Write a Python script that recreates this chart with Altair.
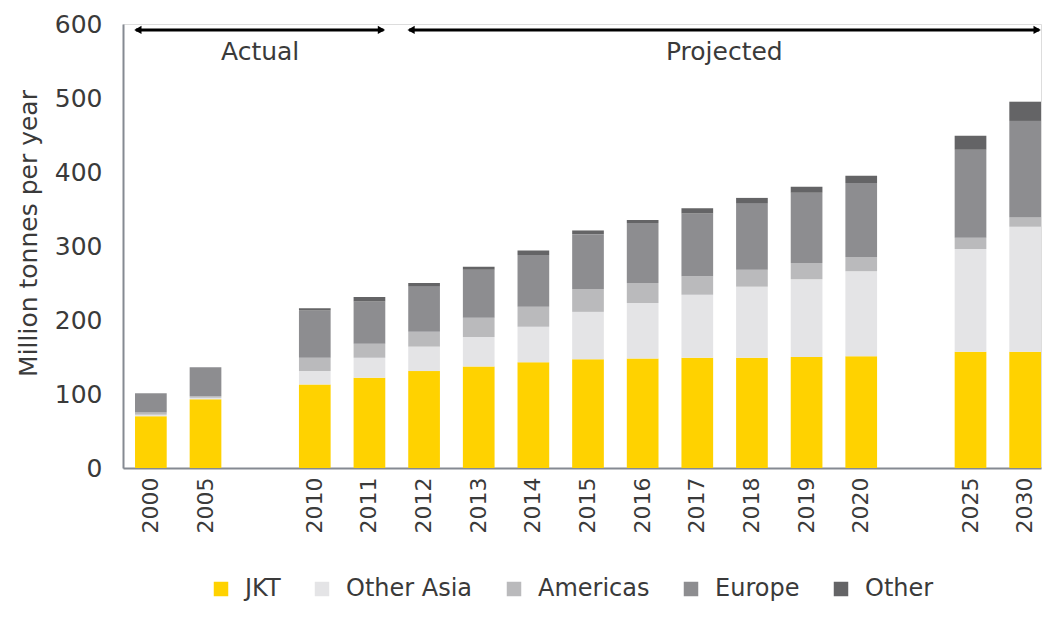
import altair as alt
import pandas as pd

years = ["2000", "2005", "2010", "2011", "2012", "2013", "2014", "2015", "2016",
         "2017", "2018", "2019", "2020", "2025", "2030"]
slots = ["2000", "2005", "gap1", "2010", "2011", "2012", "2013", "2014", "2015", "2016",
         "2017", "2018", "2019", "2020", "gap2", "2025", "2030"]

jkt        = [70, 93, 113, 122, 131, 137, 143, 147, 148, 149, 149, 150, 151, 157, 157]
other_asia = [2, 2, 18, 27, 33, 40, 48, 64, 75, 85, 96, 105, 115, 139, 169]
americas   = [3, 2, 18, 19, 20, 26, 27, 31, 27, 25, 23, 22, 19, 15, 13]
europe     = [26, 39, 64, 57, 61, 65, 70, 74, 81, 85, 90, 95, 100, 119, 130]
other      = [0, 0, 3, 6, 5, 4, 6, 5, 4, 7, 7, 8, 10, 19, 26]

series = ["JKT", "Other Asia", "Americas", "Europe", "Other"]
colors = ["#FFD200", "#E4E4E6", "#BABABC", "#8D8D90", "#646466"]

rows = []
for i, y in enumerate(years):
    for k, (name, vals) in enumerate(zip(series, [jkt, other_asia, americas, europe, other])):
        rows.append({"year": y, "region": name, "value": vals[i], "order": k})
df = pd.DataFrame(rows)

arrow_start = ["2000", "2012"]
arrow_end = ["2011", "2030"]
arrow_y = [592, 592]
arrows = pd.DataFrame({"start": arrow_start, "end": arrow_end, "y": arrow_y})

label_text = ["Actual", "Projected"]
label_slot = ["gap1", "2017"]
label_dx = [0, 27]
label_y = [562, 562]

FONT = "DejaVu Sans"
TXT = "#3a3a3a"

xscale = alt.Scale(domain=slots, paddingInner=0.42, paddingOuter=0.11, align=1)
yscale = alt.Scale(domain=[0, 600], nice=False)

bars = alt.Chart(df).mark_bar().encode(
    x=alt.X("year:N", scale=xscale, sort=slots,
            axis=alt.Axis(title=None, labelAngle=270, labelFontSize=22, labelFont=FONT,
                          labelColor=TXT, ticks=False, domainColor="#858a92", domainWidth=2,
                          labelPadding=9,
                          labelExpr="indexof(datum.label, 'gap') >= 0 ? '' : datum.label")),
    y=alt.Y("value:Q", stack="zero", scale=yscale,
            axis=alt.Axis(title="Million tonnes per year", titleFontSize=25, titleFont=FONT,
                          titleFontWeight="normal", titleColor=TXT, titlePadding=13,
                          titleY=209,
                          labelFontSize=25, labelFont=FONT, labelColor=TXT,
                          values=[0, 100, 200, 300, 400, 500, 600], ticks=False, grid=False,
                          domainColor="#858a92", domainWidth=2, labelPadding=21)),
    color=alt.Color("region:N", scale=alt.Scale(domain=series, range=colors),
                    legend=alt.Legend(title=None, orient="none", direction="horizontal",
                                      legendX=86, legendY=553, symbolType="square",
                                      symbolSize=210, symbolStrokeWidth=0,
                                      labelFontSize=24, labelFont=FONT, labelColor=TXT,
                                      columnPadding=29, labelOffset=12)),
    order=alt.Order("order:Q", sort="ascending"),
)

for_arrows = alt.Chart(arrows)
lines = for_arrows.mark_rule(color="black", strokeWidth=3, xOffset=-15, x2Offset=14).encode(
    x=alt.X("start:N", scale=xscale), x2="end:N", y=alt.Y("y:Q", scale=yscale))
head_l = for_arrows.mark_point(shape="triangle-left", filled=True, color="black", size=70,
                               opacity=1, xOffset=-13).encode(
    x=alt.X("start:N", scale=xscale), y=alt.Y("y:Q", scale=yscale))
head_r = for_arrows.mark_point(shape="triangle-right", filled=True, color="black", size=70,
                               opacity=1, xOffset=12).encode(
    x=alt.X("end:N", scale=xscale), y=alt.Y("y:Q", scale=yscale))

labels = alt.Chart(pd.DataFrame({"slot": label_slot, "text": label_text, "dx": label_dx,
                                 "y": label_y}))
lab1 = labels.transform_filter("datum.dx == 0").mark_text(
    fontSize=25, font=FONT, color=TXT).encode(
    x=alt.X("slot:N", scale=xscale), y=alt.Y("y:Q", scale=yscale), text="text:N")
lab2 = labels.transform_filter("datum.dx != 0").mark_text(
    fontSize=25, font=FONT, color=TXT, dx=27).encode(
    x=alt.X("slot:N", scale=xscale), y=alt.Y("y:Q", scale=yscale), text="text:N")

chart = alt.layer(bars, lines, head_l, head_r, lab1, lab2).properties(
    width=918, height=444,
    autosize=alt.AutoSizeParams(type="none"),
    padding={"left": 115, "top": 16, "right": 2, "bottom": 143},
).configure_view(stroke=None).configure(background="white")

chart.save("out.html", embed_options={"renderer": "svg", "actions": False})
